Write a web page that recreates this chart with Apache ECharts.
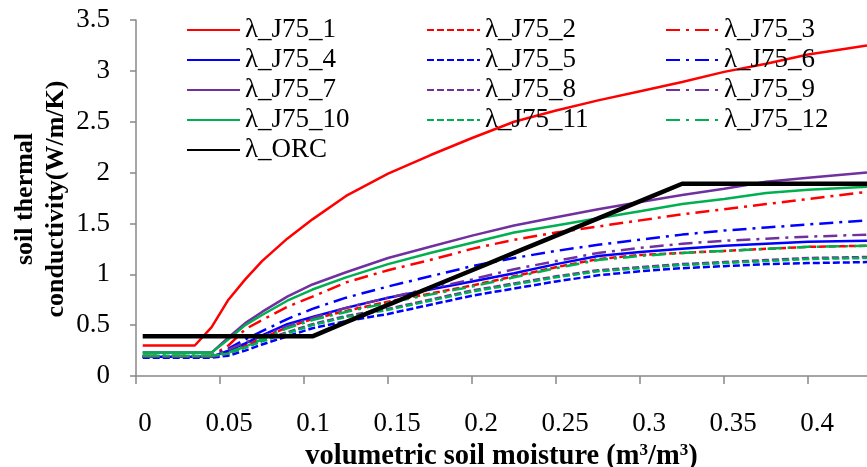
<!DOCTYPE html>
<html>
<head>
<meta charset="utf-8">
<title>soil thermal conductivity</title>
<script src="https://cdn.jsdelivr.net/npm/echarts@6/dist/echarts.min.js"></script>
<style>
  html, body { margin: 0; padding: 0; background: #fff; }
  #chart { width: 867px; height: 467px; }
</style>
</head>
<body>
<div id="chart"></div>
<script>
/**
 * volumetric soil moisture (m3/m3), shared by every curve
 */
const moisture = [0.004, 0.035, 0.045, 0.055, 0.065, 0.075, 0.09, 0.105, 0.125, 0.15, 0.175,
  0.2, 0.225, 0.25, 0.275, 0.3, 0.325, 0.35, 0.375, 0.4, 0.435]

/**
 * soil thermal conductivity (W/m/K)
 */
const j75_1 = [0.30, 0.30, 0.48, 0.75, 0.95, 1.13, 1.35, 1.54, 1.77, 1.99, 2.17, 2.34, 2.50, 2.61, 2.71, 2.80, 2.89, 2.99, 3.07, 3.16, 3.25]
const j75_2 = [0.19, 0.19, 0.19, 0.23, 0.30, 0.37, 0.48, 0.56, 0.64, 0.73, 0.81, 0.89, 0.98, 1.07, 1.15, 1.19, 1.21, 1.23, 1.25, 1.27, 1.28]
const j75_3 = [0.20, 0.20, 0.20, 0.30, 0.46, 0.55, 0.68, 0.78, 0.92, 1.04, 1.14, 1.25, 1.34, 1.41, 1.47, 1.53, 1.59, 1.64, 1.69, 1.74, 1.81]
const j75_4 = [0.19, 0.19, 0.19, 0.25, 0.32, 0.40, 0.51, 0.58, 0.67, 0.77, 0.85, 0.93, 1.01, 1.10, 1.18, 1.22, 1.25, 1.28, 1.30, 1.32, 1.33]
const j75_5 = [0.18, 0.18, 0.18, 0.20, 0.25, 0.31, 0.39, 0.47, 0.54, 0.61, 0.70, 0.79, 0.86, 0.93, 0.99, 1.03, 1.06, 1.08, 1.10, 1.11, 1.12]
const j75_6 = [0.19, 0.19, 0.19, 0.27, 0.36, 0.44, 0.56, 0.66, 0.77, 0.88, 0.98, 1.08, 1.16, 1.23, 1.29, 1.34, 1.39, 1.43, 1.46, 1.49, 1.53]
const j75_7 = [0.23, 0.23, 0.23, 0.38, 0.52, 0.63, 0.78, 0.90, 1.02, 1.16, 1.27, 1.38, 1.48, 1.56, 1.64, 1.71, 1.78, 1.84, 1.91, 1.95, 2.00]
const j75_8 = [0.19, 0.19, 0.19, 0.22, 0.28, 0.35, 0.43, 0.51, 0.59, 0.66, 0.75, 0.84, 0.91, 0.98, 1.04, 1.07, 1.10, 1.12, 1.14, 1.16, 1.17]
const j75_9 = [0.19, 0.19, 0.19, 0.26, 0.33, 0.39, 0.49, 0.57, 0.67, 0.77, 0.86, 0.95, 1.05, 1.13, 1.21, 1.26, 1.30, 1.33, 1.35, 1.37, 1.39]
const j75_10 = [0.23, 0.23, 0.23, 0.36, 0.50, 0.60, 0.74, 0.85, 0.97, 1.10, 1.21, 1.31, 1.41, 1.48, 1.55, 1.62, 1.69, 1.74, 1.80, 1.83, 1.86]
const j75_11 = [0.20, 0.20, 0.20, 0.22, 0.28, 0.34, 0.42, 0.50, 0.58, 0.65, 0.74, 0.83, 0.90, 0.97, 1.03, 1.06, 1.09, 1.11, 1.13, 1.15, 1.16]
const j75_12 = [0.20, 0.20, 0.20, 0.23, 0.29, 0.36, 0.47, 0.55, 0.63, 0.72, 0.80, 0.88, 0.97, 1.06, 1.14, 1.18, 1.21, 1.23, 1.25, 1.27, 1.28]
const orc = [0.39, 0.39, 0.39, 0.39, 0.39, 0.39, 0.39, 0.39, 0.53, 0.70, 0.87, 1.04, 1.21, 1.38, 1.55, 1.72, 1.89, 1.89, 1.89, 1.89, 1.89]

/**
 * axis ticks
 */
const xTicks = [0, 0.05, 0.1, 0.15, 0.2, 0.25, 0.3, 0.35, 0.4]
const yTicks = [0, 0.5, 1, 1.5, 2, 2.5, 3, 3.5]

const RED = '#ff0000'
const BLUE = '#0000ff'
const PURPLE = '#7030a0'
const GREEN = '#00b050'
const DASH = [7, 3]
const DASH_DOT = [14, 6, 3, 6]
const FONT = '"Liberation Serif", "Times New Roman", serif'

/**
 * 曲线定义：名称、数据、颜色、线型
 */
const curves = [
  { name: 'λ_J75_1', data: j75_1, color: RED, type: 'solid' },
  { name: 'λ_J75_2', data: j75_2, color: RED, type: DASH },
  { name: 'λ_J75_3', data: j75_3, color: RED, type: DASH_DOT },
  { name: 'λ_J75_4', data: j75_4, color: BLUE, type: 'solid' },
  { name: 'λ_J75_5', data: j75_5, color: BLUE, type: DASH },
  { name: 'λ_J75_6', data: j75_6, color: BLUE, type: DASH_DOT },
  { name: 'λ_J75_7', data: j75_7, color: PURPLE, type: 'solid' },
  { name: 'λ_J75_8', data: j75_8, color: PURPLE, type: DASH },
  { name: 'λ_J75_9', data: j75_9, color: PURPLE, type: DASH_DOT },
  { name: 'λ_J75_10', data: j75_10, color: GREEN, type: 'solid' },
  { name: 'λ_J75_11', data: j75_11, color: GREEN, type: DASH },
  { name: 'λ_J75_12', data: j75_12, color: GREEN, type: DASH_DOT },
  { name: 'λ_ORC', data: orc, color: '#000000', type: 'solid', width: 4.5 }
]

const series = curves.map(c => ({
  name: c.name,
  type: 'line',
  symbol: 'none',
  data: moisture.map((m, i) => [m, c.data[i]]),
  itemStyle: { color: c.color },
  lineStyle: { color: c.color, width: c.width || 2.5, type: c.type, cap: 'butt' }
}))

/**
 * 图例分三列，按行排列（只画线，不画标记点）
 */
const names = curves.map(c => c.name)
const legendCol = (left, idx) => ({
  orient: 'vertical',
  left: left,
  top: 10,
  itemWidth: 53,
  itemHeight: 12,
  itemGap: 0,
  selectedMode: false,
  itemStyle: { opacity: 0 },
  data: idx.map(i => names[i]),
  textStyle: { fontFamily: FONT, fontSize: 27, color: '#000', lineHeight: 30 }
})

const axisLine = { lineStyle: { color: '#888888', width: 1.5 } }

const option = {
  animation: false,
  backgroundColor: '#ffffff',
  legend: [
    legendCol(181, [0, 3, 6, 9, 12]),
    legendCol(421, [1, 4, 7, 10]),
    legendCol(660, [2, 5, 8, 11])
  ],
  /**
   * 固定绘图区，不让 v6 的 outerBounds 自动收缩
   */
  grid: { left: 136, right: 0, top: 20, bottom: 91, containLabel: false, outerBoundsMode: 'none' },
  xAxis: {
    type: 'value',
    min: 0,
    max: 0.435,
    interval: 0.05,
    splitLine: { show: false },
    axisLine: axisLine,
    axisTick: { length: 8, lineStyle: { color: '#888888', width: 1.5 } },
    axisLabel: {
      margin: 34,
      padding: [0, 0, 0, 18],
      fontFamily: FONT,
      fontSize: 27,
      color: '#000',
      showMaxLabel: false,
      formatter: v => {
        const k = xTicks.findIndex(t => Math.abs(t - v) < 1e-6)
        return k < 0 ? '' : String(xTicks[k])
      }
    },
    name: 'volumetric soil moisture (m{sup|3}/m{sup|3})',
    nameLocation: 'middle',
    nameGap: 65,
    nameTextStyle: {
      fontFamily: FONT,
      fontSize: 28.5,
      fontWeight: 'bold',
      color: '#000',
      rich: {
        sup: { fontFamily: FONT, fontSize: 17, fontWeight: 'bold', color: '#000', verticalAlign: 'top', lineHeight: 17, padding: [0, 0, 11, 0] }
      }
    }
  },
  yAxis: {
    type: 'value',
    min: yTicks[0],
    max: yTicks[yTicks.length - 1],
    interval: 0.5,
    splitLine: { show: false },
    axisLine: { show: true, lineStyle: { color: '#888888', width: 1.5 } },
    axisTick: { show: true, length: 6, lineStyle: { color: '#888888', width: 1.5 } },
    axisLabel: { margin: 26, fontFamily: FONT, fontSize: 27, color: '#000' }
  },
  graphic: [
    {
      type: 'text',
      x: 41,
      y: 199,
      rotation: Math.PI / 2,
      style: {
        text: 'soil thermal\nconductivity(W/m/K)',
        fontFamily: FONT,
        fontSize: 26,
        fontWeight: 'bold',
        lineHeight: 31,
        align: 'center',
        verticalAlign: 'middle',
        fill: '#000'
      }
    }
  ],
  series: series
}

const chart = echarts.init(document.getElementById('chart'), null, { renderer: 'canvas' })
chart.setOption(option)
</script>
</body>
</html>
